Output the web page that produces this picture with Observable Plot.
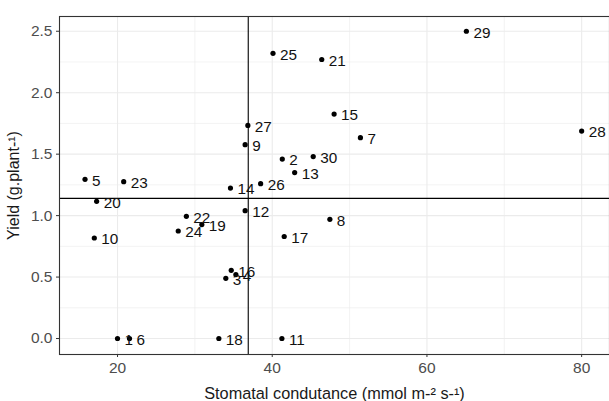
<!DOCTYPE html>
<html>
<head>
<meta charset="utf-8">
<script src="https://cdn.jsdelivr.net/npm/d3@7"></script>
<script src="https://cdn.jsdelivr.net/npm/@observablehq/plot@0.6"></script>
<style>
  html, body { margin: 0; padding: 0; background: #fff; }
  #chart svg { display: block; }
  g[aria-label="x-axis label"] text { font-size: 16.3px; fill: #1a1a1a; }
  g[aria-label="y-axis label"] text { font-size: 16px; fill: #1a1a1a; }
</style>
</head>
<body>
<div id="chart"></div>
<script>
const ids       = [1, 2, 3, 4, 5, 6, 7, 8, 9, 10, 11, 12, 13, 14, 15, 16, 17, 18, 19, 20, 21, 22, 23, 24, 25, 26, 27, 28, 29, 30];
const stomatal  = [20.0, 41.3, 34.0, 35.3, 15.8, 21.55, 51.4, 47.45, 36.5, 17.0, 41.25, 36.5, 42.9, 34.6, 48.0, 34.7, 41.55, 33.1, 30.9, 17.3, 46.4, 28.9, 20.8, 27.85, 40.1, 38.5, 36.85, 80.0, 65.1, 45.3];
const yieldVals = [0.0, 1.46, 0.49, 0.52, 1.295, 0.0, 1.634, 0.97, 1.577, 0.818, 0.0, 1.04, 1.35, 1.224, 1.826, 0.555, 0.83, 0.0, 0.927, 1.116, 2.27, 0.994, 1.276, 0.875, 2.32, 1.26, 1.734, 1.688, 2.50, 1.48];
const xTicks = [20, 40, 60, 80];
const xMinor = [30, 50, 70];
const yTicks = [0.0, 0.5, 1.0, 1.5, 2.0, 2.5];
const yMinor = [0.25, 0.75, 1.25, 1.75, 2.25];
const meanX = [36.9];
const meanY = [1.14];

const data = ids.map((id, i) => ({id, x: stomatal[i], y: yieldVals[i]}));

const chart = Plot.plot({
  width: 609,
  height: 401,
  marginLeft: 59,
  marginRight: 0,
  marginTop: 16,
  marginBottom: 47,
  style: {fontFamily: "'Liberation Sans', Arial, sans-serif", background: "#fff"},
  x: {domain: [12.5, 83.6]},
  y: {domain: [-0.13, 2.62]},
  marks: [
    Plot.gridX(xMinor, {stroke: "#ebebeb", strokeOpacity: 1, strokeWidth: 0.6}),
    Plot.gridY(yMinor, {stroke: "#ebebeb", strokeOpacity: 1, strokeWidth: 0.6}),
    Plot.gridX(xTicks, {stroke: "#ebebeb", strokeOpacity: 1, strokeWidth: 1.1}),
    Plot.gridY(yTicks, {stroke: "#ebebeb", strokeOpacity: 1, strokeWidth: 1.1}),
    Plot.axisX({
      ticks: xTicks, tickSize: 3, tickPadding: 4, stroke: "#333",
      fontSize: 15.5, color: "#4d4d4d",
      tickFormat: d3.format("d"),
      label: "Stomatal condutance (mmol m-² s-¹)", labelAnchor: "center", labelArrow: "none",
      labelOffset: 44
    }),
    Plot.axisY({
      ticks: yTicks, tickSize: 3, tickPadding: 4, stroke: "#333",
      fontSize: 15.5, color: "#4d4d4d",
      tickFormat: d3.format(".1f"),
      label: "Yield (g.plant-¹)", labelAnchor: "center", labelArrow: "none",
      labelOffset: 52
    }),
    Plot.ruleX(meanX, {stroke: "#000", strokeWidth: 1.1}),
    Plot.ruleY(meanY, {stroke: "#000", strokeWidth: 1.1}),
    Plot.dot(data, {x: "x", y: "y", r: 2.6, fill: "#000", stroke: "none"}),
    Plot.text(data, {x: "x", y: "y", text: d => String(d.id), textAnchor: "start", dx: 7, dy: 1.5, fontSize: 15.3, fill: "#111"}),
    Plot.frame({stroke: "#333", strokeWidth: 1.1})
  ]
});
document.getElementById("chart").appendChild(chart);
</script>
</body>
</html>
